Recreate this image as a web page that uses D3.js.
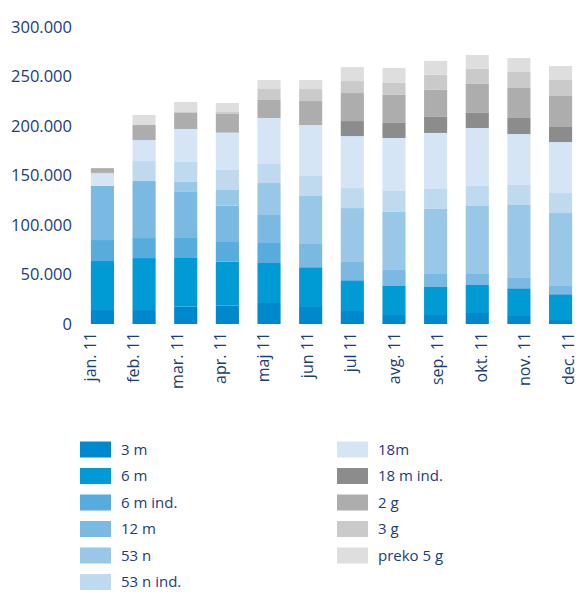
<!DOCTYPE html>
<html>
<head>
<meta charset="utf-8">
<script src="https://cdn.jsdelivr.net/npm/d3@7"></script>
<style>
  body { margin: 0; background: #fff; }
  text { font-family: "Open Sans", sans-serif; fill: #1b3d7a; }
</style>
</head>
<body>
<div id="chart"></div>
<script>
// months on the x axis
var months = ["jan. 11", "feb. 11", "mar. 11", "apr. 11", "maj 11", "jun 11",
              "jul 11", "avg. 11", "sep. 11", "okt. 11", "nov. 11", "dec. 11"];

// series names (stack order, bottom to top)
var seriesNames = ["3 m", "6 m", "6 m ind.", "12 m", "53 n", "53 n ind.",
                   "18m", "18 m ind.", "2 g", "3 g", "preko 5 g"];

// values in thousands
var s3m     = [14.1, 14.1, 17.5, 18.5, 21.2, 17.2, 13.1,  9.1,  9.1, 11.1,  8.1,  4.0];
var s6m     = [49.5, 52.5, 49.2, 44.4, 40.4, 39.4, 30.3, 29.3, 28.3, 28.3, 27.3, 25.3];
var s6mInd  = [21.2, 20.2, 20.2, 19.9, 20.2,  1.0,  1.0,  0.0,  0.0,  0.0,  1.0,  1.0];
var s12m    = [54.8, 57.6, 46.5, 36.7, 28.3, 23.2, 18.2, 16.2, 13.1, 11.1, 10.1,  8.1];
var s53n    = [ 0.0,  0.0, 10.1, 15.9, 32.3, 48.5, 54.5, 58.6, 65.7, 68.7, 73.7, 73.7];
var s53nInd = [ 0.0, 20.2, 20.2, 20.2, 19.2, 20.2, 20.2, 21.2, 20.2, 20.2, 20.2, 20.2];
var s18m    = [12.8, 21.2, 33.3, 37.7, 46.5, 51.5, 52.5, 53.5, 56.6, 58.6, 51.5, 51.5];
var s18mInd = [ 0.7,  0.0,  0.0,  0.0,  0.0,  0.0, 15.2, 15.2, 16.2, 15.2, 16.2, 15.2];
var s2g     = [ 4.3, 15.2, 16.2, 18.9, 18.2, 24.2, 28.3, 28.3, 27.3, 29.3, 30.3, 31.3];
var s3g     = [ 0.0,  0.0,  1.0,  2.0, 11.1, 12.1, 12.1, 12.1, 15.2, 15.2, 16.2, 16.2];
var s5g     = [ 0.0, 10.1, 10.1,  9.1,  9.1,  9.1, 14.1, 15.2, 14.1, 14.1, 14.1, 14.1];

var yTicks = [0, 50000, 100000, 150000, 200000, 250000, 300000];

var seriesValues = [s3m, s6m, s6mInd, s12m, s53n, s53nInd, s18m, s18mInd, s2g, s3g, s5g];
var colors = ["#0088cc", "#009bd5", "#56acdd", "#7ab9e2", "#99c7e7", "#bfdaef",
              "#d5e5f5", "#8c8c8c", "#adadad", "#cacaca", "#dedede"];

// build table rows for d3.stack
var table = months.map(function(m, i) {
  var row = { month: m };
  seriesNames.forEach(function(name, j) { row[name] = seriesValues[j][i] * 1000; });
  return row;
});

var svg = d3.select("#chart")
  .append("svg")
    .attr("width", 579)
    .attr("height", 592);

var x = d3.scaleBand()
  .domain(months)
  .range([81.5, 581.5])
  .paddingInner(0.445)
  .paddingOuter(0.225);

// the month labels sit on a slightly wider spacing than the bars
var xLabel = d3.scalePoint()
  .domain(months)
  .range([90, 568]);

var y = d3.scaleLinear()
  .domain([0, 300000])
  .range([324, 27]);

var locale = d3.formatLocale({ decimal: ",", thousands: ".", grouping: [3], currency: ["", ""] });
var fmt = locale.format(",");

// y labels (no axis line)
svg.append("g")
  .selectAll("text")
  .data(yTicks)
  .enter().append("text")
    .attr("x", 72)
    .attr("y", function(d) { return y(d); })
    .attr("dy", "0.35em")
    .attr("text-anchor", "end")
    .style("font-size", "16.5px")
    .text(function(d) { return fmt(d); });

// stacked bars
var stack = d3.stack().keys(seriesNames);
var layers = stack(table);

svg.append("g")
  .selectAll("g")
  .data(layers)
  .enter().append("g")
    .attr("fill", function(d, i) { return colors[i]; })
  .selectAll("rect")
  .data(function(d) { return d; })
  .enter().append("rect")
    .attr("x", function(d) { return x(d.data.month); })
    .attr("y", function(d) { return y(d[1]); })
    .attr("width", x.bandwidth())
    .attr("height", function(d) { return y(d[0]) - y(d[1]); });

// x labels, rotated
svg.append("g")
  .selectAll("text")
  .data(months)
  .enter().append("text")
    .attr("transform", function(d) {
      return "translate(" + xLabel(d) + ",332) rotate(-90)";
    })
    .attr("dy", "0.35em")
    .attr("text-anchor", "end")
    .style("font-size", "16px")
    .text(function(d) { return d; });

// legend, two columns
var legend = svg.append("g");
var item = legend.selectAll("g")
  .data(seriesNames)
  .enter().append("g")
    .attr("transform", function(d, i) {
      var col = i < 6 ? 0 : 1;
      var row = i < 6 ? i : i - 6;
      return "translate(" + (col === 0 ? 80 : 337) + "," + (441.5 + row * 26.5) + ")";
    });

item.append("rect")
  .attr("width", 31)
  .attr("height", 16)
  .attr("fill", function(d, i) { return colors[i]; });

item.append("text")
  .attr("x", 41)
  .attr("y", 8)
  .attr("dy", "0.35em")
  .style("font-size", "15px")
  .text(function(d) { return d; });
</script>
</body>
</html>
